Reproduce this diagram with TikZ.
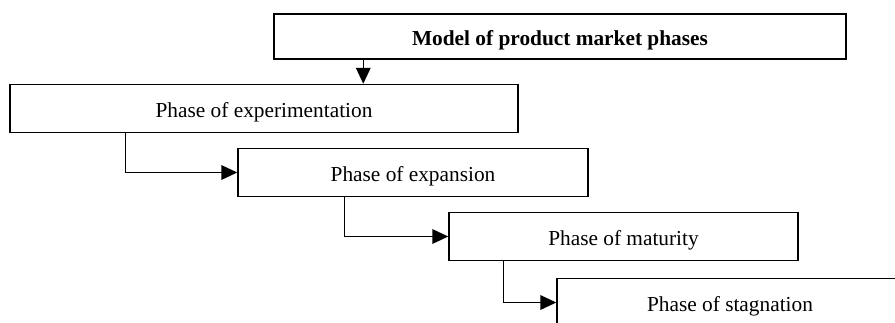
\documentclass[tikz,border=0pt]{standalone}
\usepackage{fontspec}
\setmainfont{Liberation Serif}
\usetikzlibrary{arrows.meta}

\begin{document}
\begin{tikzpicture}[
	x=0.75pt, y=-0.75pt,
	>={Triangle[length=12pt, width=11pt]},
	font=\fontsize{16}{19}\selectfont,
  basic/.style = {draw, rectangle, line width=1.1pt, inner sep=0pt,
                  text height=14pt, text depth=0pt},
  head/.style  = {basic, font=\fontsize{16}{19}\selectfont\bfseries,
                  minimum width=572*0.75pt, minimum height=45*0.75pt},
  phase/.style = {basic, minimum height=48*0.75pt},
  link/.style  = {->, line width=1.1pt}]

	% picture frame, the last phase runs off its edge
	\clip (0,0) rectangle (895,322);

	% root of the model
	\node[head] (top) at (560,36.5) {Model of product market phases};

	% the phases, each one lower and further right
	\node[phase, minimum width=508*0.75pt] (exp)  at (264,108.5) {Phase of experimentation};
	\node[phase, minimum width=350*0.75pt] (expn) at (413,172.5) {Phase of expansion};
	\node[phase, minimum width=349*0.75pt] (mat)  at (623.5,236.5) {Phase of maturity};
	\node[phase, minimum width=346*0.75pt] (stag) at (730,302.5) {Phase of stagnation};

	% arrow from the model down to the first phase
	\draw[link] ([xshift=90*0.75pt]top.south west) -- ([xshift=90*0.75pt]top.south west |- exp.north);

	% step arrows from each phase to the next one
	\foreach \from/\to/\off in {exp/expn/116, expn/mat/107, mat/stag/55}
	  \draw[link] ([xshift=\off*0.75pt]\from.south west) |- (\to.west);
\end{tikzpicture}
\end{document}
